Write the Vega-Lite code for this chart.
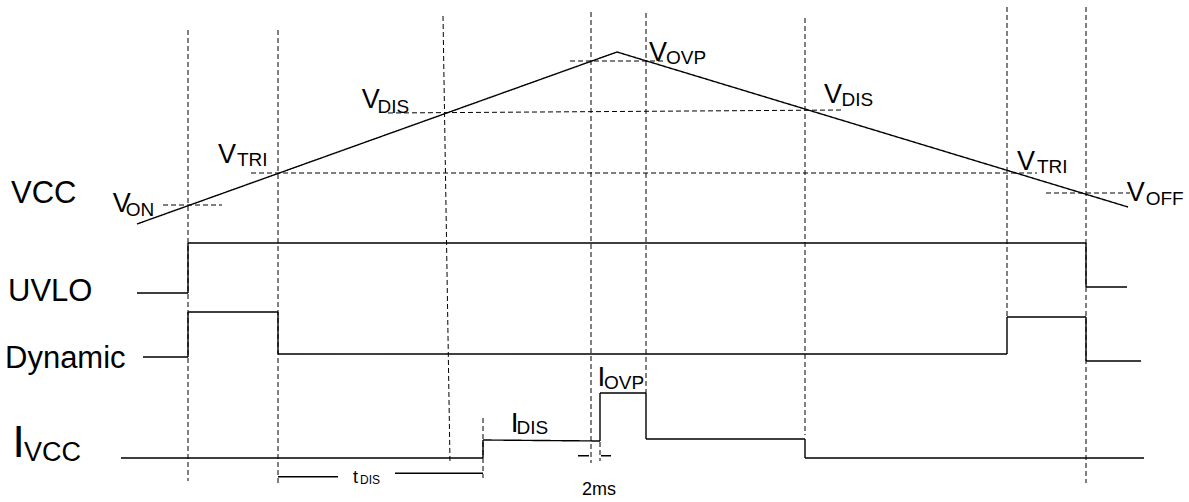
{
  "$schema": "https://vega.github.io/schema/vega-lite/v6.json",
  "width": 1189,
  "height": 502,
  "padding": 0,
  "autosize": {"type": "none"},
  "background": "white",
  "config": {"view": {"stroke": null}, "text": {"align": "left", "baseline": "alphabetic", "font": "Liberation Sans", "color": "black"}},
  "encoding": {
    "x": {"field": "x", "type": "quantitative", "scale": {"domain": [0, 1189], "nice": false, "zero": false}, "axis": null},
    "y": {"field": "y", "type": "quantitative", "scale": {"domain": [0, 502], "reverse": true, "nice": false, "zero": false}, "axis": null}
  },
  "datasets": {
    "segs": [
      {"x": 137, "y": 224, "x2": 617, "y2": 52, "style": "solid"},
      {"x": 617, "y": 52, "x2": 1128, "y2": 207, "style": "solid"},
      {"x": 137, "y": 293, "x2": 188, "y2": 293, "style": "solid"},
      {"x": 188, "y": 293, "x2": 188, "y2": 243, "style": "solid"},
      {"x": 188, "y": 243, "x2": 1086, "y2": 243, "style": "solid"},
      {"x": 1086, "y": 243, "x2": 1086, "y2": 287, "style": "solid"},
      {"x": 1086, "y": 287, "x2": 1127, "y2": 287, "style": "solid"},
      {"x": 143, "y": 357, "x2": 188, "y2": 357, "style": "solid"},
      {"x": 188, "y": 357, "x2": 188, "y2": 312, "style": "solid"},
      {"x": 188, "y": 312, "x2": 278, "y2": 312, "style": "solid"},
      {"x": 278, "y": 312, "x2": 278, "y2": 354, "style": "solid"},
      {"x": 278, "y": 354, "x2": 1007, "y2": 354, "style": "solid"},
      {"x": 1007, "y": 354, "x2": 1007, "y2": 317, "style": "solid"},
      {"x": 1007, "y": 317, "x2": 1086, "y2": 317, "style": "solid"},
      {"x": 1086, "y": 317, "x2": 1086, "y2": 361, "style": "solid"},
      {"x": 1086, "y": 361, "x2": 1141, "y2": 361, "style": "solid"},
      {"x": 121, "y": 458, "x2": 483, "y2": 458, "style": "solid"},
      {"x": 483, "y": 458, "x2": 483, "y2": 440, "style": "solid"},
      {"x": 483, "y": 440, "x2": 600, "y2": 441, "style": "solid"},
      {"x": 600, "y": 441, "x2": 600, "y2": 393, "style": "solid"},
      {"x": 600, "y": 393, "x2": 646, "y2": 393, "style": "solid"},
      {"x": 646, "y": 393, "x2": 646, "y2": 439, "style": "solid"},
      {"x": 646, "y": 439, "x2": 805, "y2": 439, "style": "solid"},
      {"x": 805, "y": 439, "x2": 805, "y2": 458, "style": "solid"},
      {"x": 805, "y": 458, "x2": 1144, "y2": 458, "style": "solid"},
      {"x": 278, "y": 476.7, "x2": 338, "y2": 476.7, "style": "solid"},
      {"x": 395, "y": 473.3, "x2": 483, "y2": 473.3, "style": "solid"},
      {"x": 578, "y": 455.7, "x2": 589, "y2": 455.7, "style": "solid"},
      {"x": 601, "y": 455.7, "x2": 611, "y2": 455.7, "style": "solid"},
      {"x": 188, "y": 30, "x2": 188, "y2": 481, "style": "dashed"},
      {"x": 278, "y": 30, "x2": 278, "y2": 483, "style": "dashed"},
      {"x": 443, "y": 16, "x2": 450, "y2": 463, "style": "dashed"},
      {"x": 591, "y": 12, "x2": 591, "y2": 463, "style": "dashed"},
      {"x": 646, "y": 13, "x2": 646, "y2": 393, "style": "dashed"},
      {"x": 805, "y": 18, "x2": 805, "y2": 435, "style": "dashed"},
      {"x": 1007, "y": 7, "x2": 1007, "y2": 317, "style": "dashed"},
      {"x": 1086, "y": 7, "x2": 1086, "y2": 483, "style": "dashed"},
      {"x": 483, "y": 418, "x2": 483, "y2": 478, "style": "dashed"},
      {"x": 600, "y": 442, "x2": 600, "y2": 461, "style": "dashed"},
      {"x": 163, "y": 205, "x2": 222, "y2": 205, "style": "dashed"},
      {"x": 251, "y": 173, "x2": 1037, "y2": 173, "style": "dashed"},
      {"x": 388, "y": 113, "x2": 843, "y2": 110, "style": "dashed"},
      {"x": 570, "y": 61, "x2": 663, "y2": 61, "style": "dashed"},
      {"x": 1046, "y": 193, "x2": 1130, "y2": 193, "style": "dashed"}
    ],
    "labels": [
      {"x": 11, "y": 203, "text": "VCC", "kind": "label"},
      {"x": 8, "y": 300.7, "text": "UVLO", "kind": "label"},
      {"x": 5, "y": 368, "text": "Dynamic", "kind": "label"},
      {"x": 12.5, "y": 456.7, "text": "I", "kind": "bigI"},
      {"x": 24, "y": 460.7, "text": "VCC", "kind": "bigsub"},
      {"x": 112.7, "y": 211.7, "text": "V", "kind": "V"},
      {"x": 125.7, "y": 216, "text": "ON", "kind": "sub"},
      {"x": 218, "y": 162.7, "text": "V", "kind": "V"},
      {"x": 237, "y": 166, "text": "TRI", "kind": "sub"},
      {"x": 361.7, "y": 108.3, "text": "V", "kind": "V"},
      {"x": 377.5, "y": 112.7, "text": "DIS", "kind": "sub"},
      {"x": 649, "y": 61, "text": "V", "kind": "V"},
      {"x": 666, "y": 64, "text": "OVP", "kind": "sub"},
      {"x": 824, "y": 103.3, "text": "V", "kind": "V"},
      {"x": 841.5, "y": 106, "text": "DIS", "kind": "sub"},
      {"x": 1017, "y": 170, "text": "V", "kind": "V"},
      {"x": 1037, "y": 173, "text": "TRI", "kind": "sub"},
      {"x": 1126.7, "y": 200.7, "text": "V", "kind": "V"},
      {"x": 1145.7, "y": 205, "text": "OFF", "kind": "sub"},
      {"x": 510.7, "y": 431.7, "text": "I", "kind": "I"},
      {"x": 516.6, "y": 434, "text": "DIS", "kind": "sub"},
      {"x": 597.4, "y": 386, "text": "I", "kind": "I"},
      {"x": 604, "y": 389.3, "text": "OVP", "kind": "sub"},
      {"x": 353, "y": 483.3, "text": "t", "kind": "t"},
      {"x": 360, "y": 484, "text": "DIS", "kind": "tsub"},
      {"x": 582, "y": 495, "text": "2ms", "kind": "ms"}
    ]
  },
  "layer": [
    {
      "data": {"name": "segs"},
      "mark": {"type": "rule", "color": "black"},
      "encoding": {
        "x2": {"field": "x2"},
        "y2": {"field": "y2"},
        "strokeDash": {"field": "style", "type": "nominal", "scale": {"domain": ["solid", "dashed"], "range": [[1, 0], [5, 3]]}, "legend": null},
        "strokeWidth": {"field": "style", "type": "nominal", "scale": {"domain": ["solid", "dashed"], "range": [1.4, 1]}, "legend": null}
      }
    },
    {"data": {"name": "labels"}, "transform": [{"filter": "datum.kind == 'label'"}], "mark": {"type": "text", "fontSize": 31}, "encoding": {"text": {"field": "text"}}},
    {"data": {"name": "labels"}, "transform": [{"filter": "datum.kind == 'bigI'"}], "mark": {"type": "text", "fontSize": 44}, "encoding": {"text": {"field": "text"}}},
    {"data": {"name": "labels"}, "transform": [{"filter": "datum.kind == 'bigsub'"}], "mark": {"type": "text", "fontSize": 27}, "encoding": {"text": {"field": "text"}}},
    {"data": {"name": "labels"}, "transform": [{"filter": "datum.kind == 'V'"}], "mark": {"type": "text", "fontSize": 27}, "encoding": {"text": {"field": "text"}}},
    {"data": {"name": "labels"}, "transform": [{"filter": "datum.kind == 'I'"}], "mark": {"type": "text", "fontSize": 28}, "encoding": {"text": {"field": "text"}}},
    {"data": {"name": "labels"}, "transform": [{"filter": "datum.kind == 'sub'"}], "mark": {"type": "text", "fontSize": 19}, "encoding": {"text": {"field": "text"}}},
    {"data": {"name": "labels"}, "transform": [{"filter": "datum.kind == 't'"}], "mark": {"type": "text", "fontSize": 18}, "encoding": {"text": {"field": "text"}}},
    {"data": {"name": "labels"}, "transform": [{"filter": "datum.kind == 'tsub'"}], "mark": {"type": "text", "fontSize": 12}, "encoding": {"text": {"field": "text"}}},
    {"data": {"name": "labels"}, "transform": [{"filter": "datum.kind == 'ms'"}], "mark": {"type": "text", "fontSize": 18}, "encoding": {"text": {"field": "text"}}}
  ]
}
